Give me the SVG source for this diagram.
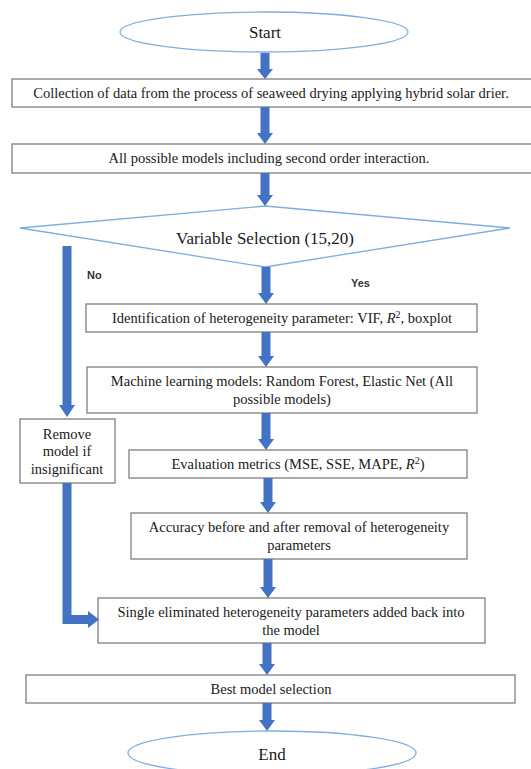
<svg xmlns="http://www.w3.org/2000/svg" width="531" height="769" viewBox="0 0 531 769">
<style>
.box{fill:#fff;stroke:#7f7f7f;stroke-width:1.3}
.term{fill:#fff;stroke:#7eaee0;stroke-width:1.3}
.t{font-size:14.5px;fill:#1a1a1a;text-anchor:middle}
.big{font-size:17px}
.lbl{font-family:'Liberation Sans',Arial,sans-serif;font-size:11px;font-weight:bold;fill:#333}
.arr{fill:#4472c4}
.sup{font-size:10px}
</style>
<rect width="531" height="769" fill="#fff"/>
<g font-family="'Liberation Serif', 'Times New Roman', serif">
<g id="start">
<ellipse class="term" cx="264" cy="32" rx="144" ry="20"/>
<text class="t big" x="265" y="38">Start</text>
</g>
<g id="collect">
<rect class="box" x="12" y="79" width="525" height="28"/>
<text class="t" x="271" y="98">Collection of data from the process of seaweed drying applying hybrid solar drier.</text>
</g>
<g id="allmodels">
<rect class="box" x="12" y="144" width="525" height="29"/>
<text class="t" x="269" y="163">All possible models including second order interaction.</text>
</g>
<g id="varsel">
<polygon class="term" points="265,206 510,228 265,267 20,228"/>
<text class="t big" x="265" y="244">Variable Selection (15,20)</text>
</g>
<g id="ident">
<rect class="box" x="86" y="304" width="391" height="28"/>
<text class="t" x="282" y="323">Identification of heterogeneity parameter: VIF, <tspan font-style="italic">R</tspan><tspan class="sup" dy="-5">2</tspan><tspan dy="5">, boxplot</tspan></text>
</g>
<g id="ml">
<rect class="box" x="87" y="367" width="390" height="46"/>
<text class="t" x="282" y="386">Machine learning models: Random Forest, Elastic Net (All</text>
<text class="t" x="282" y="404">possible models)</text>
</g>
<g id="remove">
<rect class="box" x="20" y="419" width="95" height="64"/>
<text class="t" x="67" y="439">Remove</text>
<text class="t" x="67" y="456">model if</text>
<text class="t" x="67" y="474">insignificant</text>
</g>
<g id="eval">
<rect class="box" x="129" y="450" width="338" height="28"/>
<text class="t" x="298" y="469">Evaluation metrics (MSE, SSE, MAPE, <tspan font-style="italic">R</tspan><tspan class="sup" dy="-5">2</tspan><tspan dy="5">)</tspan></text>
</g>
<g id="accuracy">
<rect class="box" x="131" y="513" width="336" height="46"/>
<text class="t" x="299" y="532">Accuracy before and after removal of heterogeneity</text>
<text class="t" x="299" y="550">parameters</text>
</g>
<g id="single">
<rect class="box" x="98" y="598" width="387" height="45"/>
<text class="t" x="291" y="617">Single eliminated heterogeneity parameters added back into</text>
<text class="t" x="291" y="635">the model</text>
</g>
<g id="best">
<rect class="box" x="26" y="675" width="489" height="28"/>
<text class="t" x="271" y="694">Best model selection</text>
</g>
<g id="end">
<ellipse class="term" cx="272" cy="753" rx="144" ry="22"/>
<text class="t big" x="272" y="760">End</text>
</g>
</g>
<g id="connectors">
<path class="arr" d="M260.5 53H269.5V69H273L265 79L257 69H260.5Z"/>
<path class="arr" d="M260.5 107H269.5V133H273L265 144L257 133H260.5Z"/>
<path class="arr" d="M260.5 173H269.5V195H273L265 206L257 195H260.5Z"/>
<path class="arr" d="M261.5 267H270.5V293H274L266 304L258 293H261.5Z"/>
<path class="arr" d="M261.5 332H270.5V356H274L266 367L258 356H261.5Z"/>
<path class="arr" d="M261.5 413H270.5V439H274L266 450L258 439H261.5Z"/>
<path class="arr" d="M263.5 478H272.5V502H276L268 513L260 502H263.5Z"/>
<path class="arr" d="M263.5 559H272.5V587H276L268 598L260 587H263.5Z"/>
<path class="arr" d="M262.5 643H271.5V664H275L267 675L259 664H262.5Z"/>
<path class="arr" d="M262.5 703H271.5V720H275L267 731L259 720H262.5Z"/>
<path class="arr" d="M62.5 246H71.5V405H75L67 417L59 405H62.5Z"/>
<path class="arr" d="M62.5 483H71.5V615H88V611L99 619.5L88 628V624H62.5Z"/>
<text class="lbl" x="87" y="279">No</text>
<text class="lbl" x="351" y="287">Yes</text>
</g>
</svg>
